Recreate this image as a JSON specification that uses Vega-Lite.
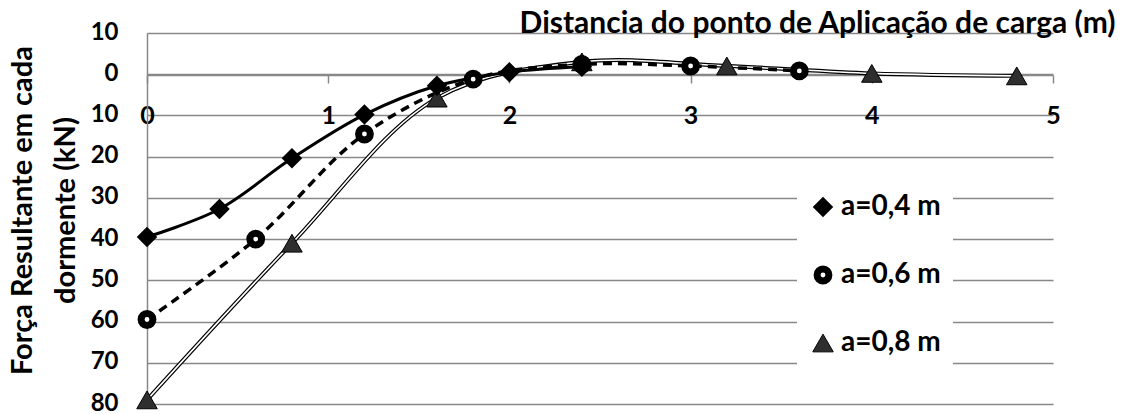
{
  "$schema": "https://vega.github.io/schema/vega-lite/v6.json",
  "width": 906,
  "height": 371,
  "autosize": {"type": "none"},
  "padding": {"left": 147, "top": 33, "right": 74, "bottom": 10},
  "background": "white",
  "config": {
    "view": {"stroke": null},
    "font": "Lato",
    "axis": {"labelFont": "Lato", "titleFont": "Lato", "labelFontWeight": "bold", "titleFontWeight": "bold", "labelColor": "black", "titleColor": "black"},
    "legend": {"labelFont": "Lato", "labelFontWeight": "bold", "labelColor": "black", "labelFontSize": 28}
  },
  "data": {
    "values": [
      {"x": 0, "f": -39.5, "s": "a=0,4 m"},
      {"x": 0.4, "f": -32.7, "s": "a=0,4 m"},
      {"x": 0.8, "f": -20.4, "s": "a=0,4 m"},
      {"x": 1.2, "f": -9.8, "s": "a=0,4 m"},
      {"x": 1.6, "f": -2.8, "s": "a=0,4 m"},
      {"x": 2.0, "f": 0.5, "s": "a=0,4 m"},
      {"x": 2.4, "f": 1.8, "s": "a=0,4 m"},
      {"x": 0, "f": -59.5, "s": "a=0,6 m"},
      {"x": 0.6, "f": -40, "s": "a=0,6 m"},
      {"x": 1.2, "f": -14.5, "s": "a=0,6 m"},
      {"x": 1.8, "f": -1.2, "s": "a=0,6 m"},
      {"x": 2.4, "f": 2.4, "s": "a=0,6 m"},
      {"x": 3.0, "f": 2.0, "s": "a=0,6 m"},
      {"x": 3.6, "f": 0.8, "s": "a=0,6 m"},
      {"x": 0, "f": -79, "s": "a=0,8 m"},
      {"x": 0.8, "f": -41, "s": "a=0,8 m"},
      {"x": 1.6, "f": -5.8, "s": "a=0,8 m"},
      {"x": 2.4, "f": 3.0, "s": "a=0,8 m"},
      {"x": 3.2, "f": 2.0, "s": "a=0,8 m"},
      {"x": 4.0, "f": 0.2, "s": "a=0,8 m"},
      {"x": 4.8, "f": -0.4, "s": "a=0,8 m"}
    ]
  },
  "encoding": {
    "x": {
      "field": "x", "type": "quantitative",
      "scale": {"domain": [0, 5], "nice": false, "zero": false},
      "axis": {
        "orient": "bottom", "offset": -329, "values": [0, 1, 2, 3, 4, 5],
        "grid": false, "domainColor": "#888888", "domainWidth": 1.5,
        "tickColor": "#888888", "tickWidth": 1.5, "tickSize": 8,
        "labelFontSize": 25, "labelPadding": 20, "labelFlush": false,
        "title": "Distancia do ponto de Aplicação de carga (m)",
        "titleFontSize": 30, "titleAlign": "right", "titleAnchor": null,
        "titleX": 968, "titleY": -43, "titleBaseline": "alphabetic"
      }
    },
    "y": {
      "field": "f", "type": "quantitative",
      "scale": {"domain": [-80, 10], "nice": false, "zero": false},
      "axis": {
        "values": [-80, -70, -60, -50, -40, -30, -20, -10, 0, 10],
        "labelExpr": "'' + abs(datum.value)",
        "grid": true, "gridColor": "#888888", "gridWidth": 1.5,
        "domainColor": "#888888", "domainWidth": 1.5, "ticks": false,
        "labelFontSize": 24, "labelPadding": 29, "labelOffset": -1,
        "title": ["Força Resultante em cada", "dormente  (kN)"],
        "titleFontSize": 29, "titleLineHeight": 43,
        "titleAngle": -90, "titleAlign": "center", "titleBaseline": "bottom",
        "titleX": -110, "titleY": 177
      }
    }
  },
  "layer": [
    {
      "transform": [{"filter": "datum.s === 'a=0,8 m'"}],
      "mark": {"type": "line", "interpolate": "catmull-rom", "color": "black", "strokeWidth": 4},
      "encoding": {}
    },
    {
      "transform": [{"filter": "datum.s === 'a=0,8 m'"}],
      "mark": {"type": "line", "interpolate": "catmull-rom", "color": "white", "strokeWidth": 1.6},
      "encoding": {}
    },
    {
      "transform": [{"filter": "datum.s === 'a=0,4 m'"}],
      "mark": {"type": "line", "interpolate": "catmull-rom", "color": "black", "strokeWidth": 3},
      "encoding": {}
    },
    {
      "transform": [{"filter": "datum.s === 'a=0,6 m'"}],
      "mark": {"type": "line", "interpolate": "catmull-rom", "color": "black", "strokeWidth": 3.5, "strokeDash": [9, 6]},
      "encoding": {}
    },
    {
      "mark": {"type": "point", "filled": true, "opacity": 1, "stroke": "black"},
      "encoding": {
        "order": {"field": "s", "type": "nominal", "sort": "descending"},
        "shape": {"field": "s", "type": "nominal", "title": null,
          "scale": {"domain": ["a=0,4 m", "a=0,6 m", "a=0,8 m"], "range": ["diamond", "circle", "triangle-up"]}},
        "fill": {"field": "s", "type": "nominal", "title": null,
          "scale": {"domain": ["a=0,4 m", "a=0,6 m", "a=0,8 m"], "range": ["black", "white", "#2e2e2e"]}},
        "size": {"field": "s", "type": "nominal", "title": null,
          "scale": {"type": "ordinal", "domain": ["a=0,4 m", "a=0,6 m", "a=0,8 m"], "range": [420, 140, 420]}},
        "strokeWidth": {"field": "s", "type": "nominal", "title": null,
          "scale": {"type": "ordinal", "domain": ["a=0,4 m", "a=0,6 m", "a=0,8 m"], "range": [0, 7, 1]},
          "legend": {
            "orient": "none", "legendX": 650, "legendY": 148, "title": null,
            "fillColor": "white", "padding": 12, "rowPadding": 34,
            "labelOffset": 4, "symbolStrokeColor": "black", "symbolOpacity": 1
          }}
      }
    }
  ]
}
